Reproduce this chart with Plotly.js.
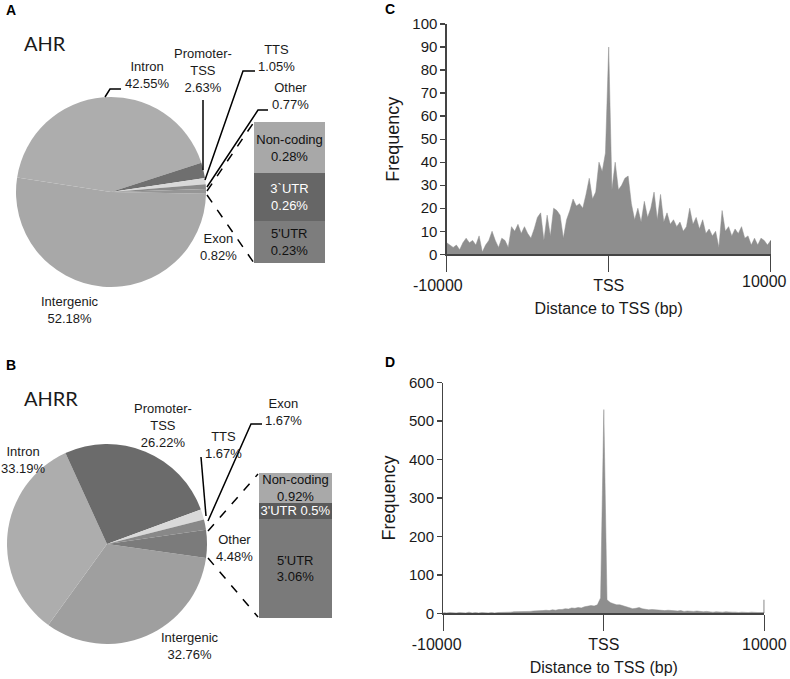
<!DOCTYPE html>
<html>
<head>
<meta charset="utf-8">
<script src="https://cdn.plot.ly/plotly-3.0.1.min.js"></script>
<style>
  html, body { margin: 0; padding: 0; background: #fff; }
  #chart { width: 790px; height: 679px; }
</style>
</head>
<body>
<div id="chart"></div>
<script>
// Genomic annotation of peaks, clockwise from the right edge of each pie
const pieLabels = ['Intergenic', 'Intron', 'Promoter-TSS', 'TTS', 'Exon', 'Other'];
const ahrShares = [52.18, 42.55, 2.63, 1.05, 0.82, 0.77];
const ahrrShares = [32.76, 33.19, 26.22, 1.67, 1.67, 4.48];
const ahrColors = ['#a8a8a8', '#adadad', '#6f6f6f', '#d9d9d9', '#8a8a8a', '#969696'];
const ahrrColors = ['#9f9f9f', '#adadad', '#6b6b6b', '#d9d9d9', '#888888', '#7b7b7b'];

// "Other" broken down, bottom to top of the stacked box
const otherLabelsA = ["5'UTR", '3`UTR', 'Non-coding'];
const otherLabelsB = ["5'UTR", "3'UTR", 'Non-coding'];
const otherSharesA = [0.23, 0.26, 0.28];
const otherSharesB = [3.06, 0.5, 0.92];
const otherBreaksB = ['<br>', ' ', '<br>'];
const otherColorsA = ['#7d7d7d', '#666666', '#a8a8a8'];
const otherColorsB = ['#7a7a7a', '#5a5a5a', '#a9a9a9'];
const otherTextColors = ['#111111', '#ffffff', '#111111'];

// Peak distance to TSS, 200 bp bins from -10000 to 10000
const binStart = -10000;
const binWidth = 200;
const ahrFreq = [
  5, 4, 3, 4, 2, 5, 7, 5, 6, 4,
  8, 1, 4, 6, 10, 6, 3, 7, 6, 3,
  12, 10, 13, 9, 12, 9, 7, 11, 16, 18,
  6, 17, 8, 20, 19, 17, 7, 15, 19, 24,
  21, 22, 20, 26, 33, 24, 27, 40, 36, 44,
  90,
  28, 40, 28, 30, 33, 34, 22, 15, 20, 14,
  23, 16, 20, 27, 15, 26, 14, 18, 13, 15,
  12, 14, 10, 12, 20, 13, 16, 11, 15, 9,
  11, 8, 10, 3, 19, 10, 12, 8, 11, 9,
  12, 7, 8, 4, 7, 4, 7, 6, 4, 6
];
const ahrrFreq = [
  2, 1, 2, 1, 1, 2, 1, 1, 3, 1,
  2, 1, 2, 1, 1, 2, 1, 2, 2, 3,
  3, 3, 4, 4, 5, 4, 5, 5, 6, 6,
  7, 7, 8, 7, 9, 8, 10, 10, 12, 11,
  14, 13, 15, 14, 17, 18, 20, 19, 22, 40,
  530,
  35, 28, 25, 22, 22, 20, 18, 14, 12, 13,
  15, 12, 10, 9, 10, 9, 8, 8, 7, 8,
  7, 6, 6, 7, 5, 6, 5, 5, 6, 4,
  4, 5, 4, 3, 4, 3, 3, 4, 3, 3,
  3, 2, 3, 2, 2, 3, 2, 2, 2, 2
];
const tssTicks = [-10000, 0, 10000];
const tssTickText = ['-10000', 'TSS', '10000'];

const W = 790, H = 679;
const px = x => x / W;
const py = y => 1 - y / H;
const FONT = 'Liberation Sans, Arial, sans-serif';
const INK = '#1a1a1a';
const AXIS = '#444444';
const FILL = '#8e8e8e';
const NB = '\u00a0';

const bins = ahrFreq.map((_, i) => binStart + i * binWidth);

// trailing no-break spaces nudge the end labels left, as in the figure
const padTicks = pads => tssTickText.map((t, i) => t + NB.repeat(pads[i]));

const traces = [];

// pies
traces.push({
  type: 'pie', labels: pieLabels, values: ahrShares, sort: false,
  direction: 'clockwise', rotation: 91,
  marker: { colors: ahrColors, line: { width: 0 } },
  textinfo: 'none', hoverinfo: 'none',
  domain: { x: [px(16), px(206)], y: [py(287), py(97)] }
});
traces.push({
  type: 'pie', labels: pieLabels, values: ahrrShares, sort: false,
  direction: 'clockwise', rotation: 98,
  marker: { colors: ahrrColors, line: { width: 0 } },
  textinfo: 'none', hoverinfo: 'none',
  domain: { x: [px(7), px(207)], y: [py(644), py(444)] }
});

// stacked "Other" boxes
otherSharesA.forEach((v, i) => {
  traces.push({
    type: 'bar', x: [0], y: [v], width: 1, xaxis: 'x3', yaxis: 'y3',
    marker: { color: otherColorsA[i], line: { width: 0 } },
    text: [otherLabelsA[i] + '<br>' + v.toFixed(2) + '%'],
    textposition: 'inside', insidetextanchor: 'middle', constraintext: 'none',
    textfont: { size: 13, color: otherTextColors[i], family: FONT },
    hoverinfo: 'none'
  });
});
otherSharesB.forEach((v, i) => {
  traces.push({
    type: 'bar', x: [0], y: [v], width: 1, xaxis: 'x4', yaxis: 'y4',
    marker: { color: otherColorsB[i], line: { width: 0 } },
    text: [otherLabelsB[i] + otherBreaksB[i] + v + '%'],
    textposition: 'inside', insidetextanchor: 'middle', constraintext: 'none',
    textfont: { size: 13, color: otherTextColors[i], family: FONT },
    hoverinfo: 'none'
  });
});

// TSS distance profiles
traces.push({
  type: 'scatter', mode: 'lines', x: bins, y: ahrFreq, xaxis: 'x', yaxis: 'y',
  fill: 'tozeroy', fillcolor: FILL, line: { color: FILL, width: 0.5 }, hoverinfo: 'none'
});
traces.push({
  type: 'scatter', mode: 'lines', x: bins, y: ahrrFreq, xaxis: 'x2', yaxis: 'y2',
  fill: 'tozeroy', fillcolor: FILL, line: { color: FILL, width: 0.5 }, hoverinfo: 'none'
});

const xAxisBase = {
  range: [-10000, 10000], showline: true, linecolor: AXIS, linewidth: 1.3,
  ticks: 'outside', ticklen: 16, tickcolor: AXIS, tickwidth: 1.3,
  tickvals: tssTicks, tickfont: { size: 16 },
  showgrid: false, zeroline: false,
  title: { text: 'Distance to TSS (bp)', font: { size: 16 }, standoff: 10 }
};
const yAxisBase = {
  showline: true, linecolor: AXIS, linewidth: 1.3,
  ticks: 'outside', ticklen: 5, tickcolor: AXIS, tickwidth: 1.3,
  tickfont: { size: 15 }, showgrid: false, zeroline: false,
  title: { text: 'Frequency', font: { size: 18 }, standoff: 8 }
};
const hiddenAxis = { visible: false, fixedrange: true };

function leader(points, dash) {
  const d = points.map((p, i) => (i ? 'L' : 'M') + px(p[0]) + ',' + py(p[1])).join(' ');
  return { type: 'path', xref: 'paper', yref: 'paper', path: d,
    line: { color: '#000', width: 1.5, dash: dash ? 'dash' : 'solid' } };
}

const shapes = [
  leader([[105, 97], [110, 89], [121, 89]]),
  leader([[203, 170], [203, 100]]),
  leader([[205, 180], [243, 71], [255, 71]]),
  leader([[207, 187], [258, 110], [268, 110]]),
  leader([[207, 191], [254, 122]], true),
  leader([[207, 195], [254, 263]], true),
  leader([[201, 457], [206, 516]]),
  leader([[208, 521], [251, 424], [262, 424]]),
  leader([[208, 531], [258, 474]], true),
  leader([[208, 558], [258, 617]], true),
  // end marks at +10000 on the profile axes
  { type: 'line', xref: 'x', yref: 'y', x0: 10000, x1: 10000, y0: 0, y1: 6, line: { color: AXIS, width: 1.3 } },
  { type: 'line', xref: 'x2', yref: 'y2', x0: 10000, x1: 10000, y0: 0, y1: 35, line: { color: AXIS, width: 1.3 } }
];

function label(text, x, y, opts) {
  return Object.assign({ text: text, x: px(x), y: py(y), xref: 'paper', yref: 'paper',
    showarrow: false, xanchor: 'center', yanchor: 'middle', font: { size: 13, color: INK } }, opts || {});
}

const annotations = [
  label('<b>A</b>', 4, 10, { xanchor: 'left', font: { size: 14, color: '#000' } }),
  label('<b>B</b>', 4, 365, { xanchor: 'left', font: { size: 14, color: '#000' } }),
  label('<b>C</b>', 383, 9, { xanchor: 'left', font: { size: 14, color: '#000' } }),
  label('<b>D</b>', 383, 362, { xanchor: 'left', font: { size: 14, color: '#000' } }),
  label('AHR', 22, 43, { xanchor: 'left', font: { size: 20, color: INK, family: 'Lato, sans-serif' } }),
  label('AHRR', 22, 398, { xanchor: 'left', font: { size: 20, color: INK, family: 'Lato, sans-serif' } }),
  label('Intron<br>42.55%', 147, 75),
  label('Promoter-<br>TSS<br>2.63%', 203, 71),
  label('TTS<br>1.05%', 276, 58),
  label('Other<br>0.77%', 290, 96),
  label('Exon<br>0.82%', 218, 247),
  label('Intergenic<br>52.18%', 70, 310),
  label('Intron<br>33.19%', 23, 460),
  label('Promoter-<br>TSS<br>26.22%', 163, 425),
  label('TTS<br>1.67%', 223, 445),
  label('Exon<br>1.67%', 283, 412),
  label('Other<br>4.48%', 234, 548),
  label('Intergenic<br>32.76%', 190, 646),
  // right end label of panel C sits inside the page edge
  label(tssTickText[2], 764, 281, { font: { size: 16, color: INK } })
];

const layout = {
  width: W, height: H,
  margin: { l: 0, r: 0, t: 0, b: 0 },
  paper_bgcolor: '#fff', plot_bgcolor: 'rgba(0,0,0,0)',
  font: { family: FONT, color: INK },
  showlegend: false, hovermode: false, barmode: 'stack',
  xaxis: Object.assign({}, xAxisBase, { domain: [px(446.7), px(770.7)], anchor: 'y',
    ticktext: padTicks([4, 0, 0]).map((t, i) => (i === 2 ? '' : t)) }),
  yaxis: Object.assign({}, yAxisBase, { domain: [py(254.3), py(24)], range: [0, 100], dtick: 10, anchor: 'x' }),
  xaxis2: Object.assign({}, xAxisBase, { domain: [px(443.3), px(764.3)], anchor: 'y2', ticktext: padTicks([3, 0, 0]) }),
  yaxis2: Object.assign({}, yAxisBase, { domain: [py(613.3), py(382.7)], range: [0, 600], dtick: 100, anchor: 'x2' }),
  xaxis3: Object.assign({}, hiddenAxis, { domain: [px(254), px(325)], range: [-0.5, 0.5], anchor: 'y3' }),
  yaxis3: Object.assign({}, hiddenAxis, { domain: [py(263), py(122)], range: [0, 0.77], anchor: 'x3' }),
  xaxis4: Object.assign({}, hiddenAxis, { domain: [px(259), px(332)], range: [-0.5, 0.5], anchor: 'y4' }),
  yaxis4: Object.assign({}, hiddenAxis, { domain: [py(618), py(473)], range: [0, 4.48], anchor: 'x4' }),
  shapes: shapes,
  annotations: annotations
};

Plotly.newPlot('chart', traces, layout, { staticPlot: true, displayModeBar: false });
</script>
</body>
</html>
